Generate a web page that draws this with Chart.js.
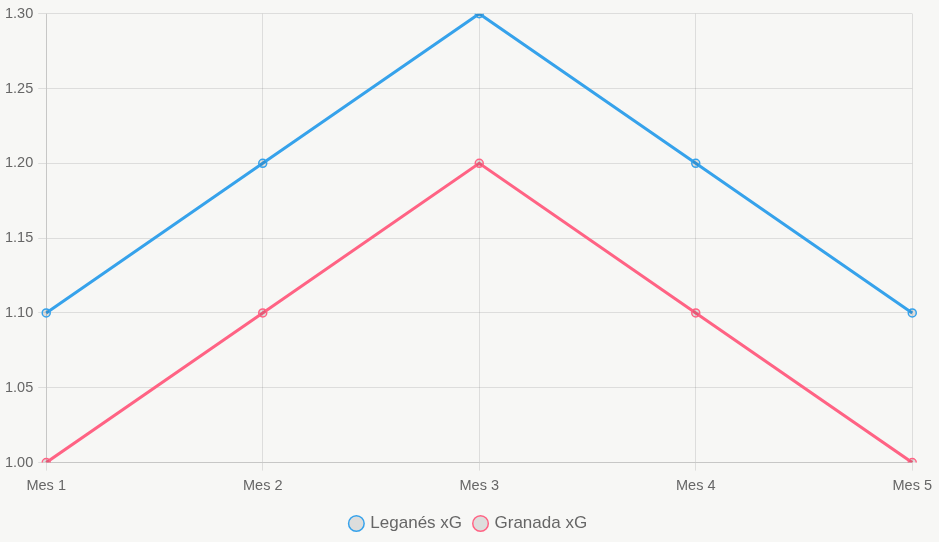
<!DOCTYPE html>
<html>
<head>
<meta charset="utf-8">
<script src="https://cdn.jsdelivr.net/npm/chart.js@4"></script>
<style>
  html, body { margin: 0; padding: 0; background: #f7f7f5; }
  #wrap { width: 939px; height: 542px; }
</style>
</head>
<body>
<div id="wrap"><canvas id="myChart"></canvas></div>
<script>
// Chart data
var labels = ["Mes 1", "Mes 2", "Mes 3", "Mes 4", "Mes 5"];
var leganesXG = [1.1, 1.2, 1.3, 1.2, 1.1];
var granadaXG = [1.0, 1.1, 1.2, 1.1, 1.0];

Chart.defaults.color = "#666";

var ctx = document.getElementById("myChart").getContext("2d");
var myChart = new Chart(ctx, {
  type: "line",
  data: {
    labels: labels,
    datasets: [
      {
        label: "Leganés xG",
        data: leganesXG,
        borderColor: "#36A2EB",
        backgroundColor: "rgba(0,0,0,0.1)",
        borderWidth: 3,
        pointRadius: 4,
        pointBorderWidth: 1.5
      },
      {
        label: "Granada xG",
        data: granadaXG,
        borderColor: "#FF6384",
        backgroundColor: "rgba(0,0,0,0.1)",
        borderWidth: 3,
        pointRadius: 4,
        pointBorderWidth: 1.5
      }
    ]
  },
  options: {
    responsive: true,
    maintainAspectRatio: false,
    animation: false,
    layout: { padding: { top: 1, right: 1 } },
    plugins: {
      legend: {
        position: "bottom",
        labels: {
          usePointStyle: true,
          boxWidth: 11,
          boxHeight: 11,
          padding: 13,
          font: { size: 17 }
        }
      },
      tooltip: { enabled: false }
    },
    scales: {
      x: {
        ticks: { font: { size: 14.5 }, padding: 7 }
      },
      y: {
        min: 1.0,
        max: 1.3,
        ticks: {
          stepSize: 0.05,
          padding: 5,
          font: { size: 14.5 },
          callback: function (v) { return v.toFixed(2); }
        }
      }
    }
  }
});
</script>
</body>
</html>
